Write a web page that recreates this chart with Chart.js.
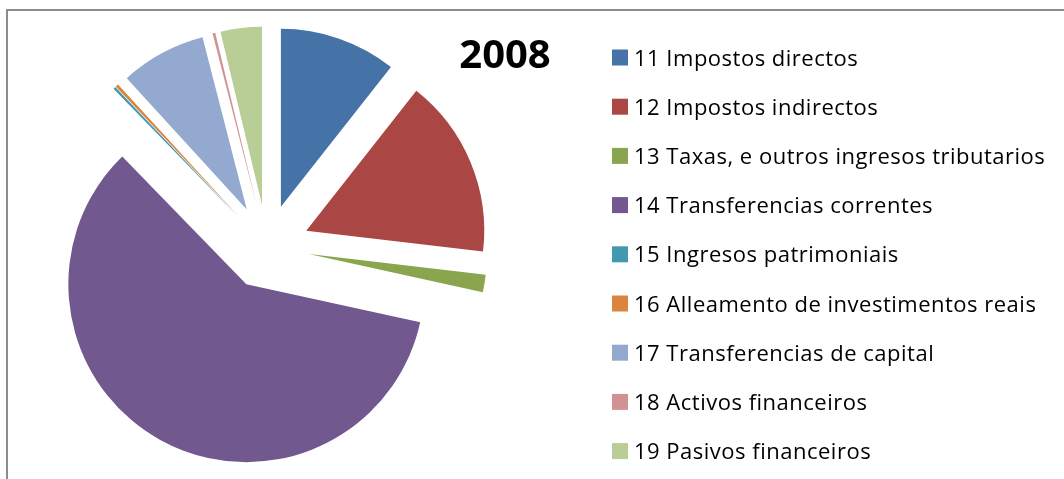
<!DOCTYPE html>
<html>
<head>
<meta charset="utf-8">
<script src="https://cdn.jsdelivr.net/npm/chart.js@4"></script>
<style>
  body { margin: 0; background: #fff; }
  #wrap { position: relative; width: 1064px; height: 479px; overflow: hidden; }
  #frame { position: absolute; left: 6px; top: 9px; width: 1100px; height: 500px;
           border-top: 2px solid #8c8c8c; border-left: 2px solid #8c8c8c; }
  canvas { position: absolute; left: 0; top: 0; }
</style>
</head>
<body>
<div id="wrap">
  <div id="frame"></div>
  <canvas id="chart" width="1064" height="479"></canvas>
</div>
<script>
var title = '2008';
var labels = [
  '11 Impostos directos',
  '12 Impostos indirectos',
  '13 Taxas, e outros ingresos tributarios',
  '14 Transferencias correntes',
  '15 Ingresos patrimoniais',
  '16 Alleamento de investimentos reais',
  '17 Transferencias de capital',
  '18 Activos financeiros',
  '19 Pasivos financeiros'
];
// share of total (%)
var shares = [10.61, 16.25, 1.58, 59.28, 0.22, 0.28, 7.78, 0.25, 3.75];
var colors = ['#4572A7', '#AA4643', '#89A54E', '#71588F', '#4198AF',
              '#DB843D', '#93A9CF', '#D19392', '#B9CD96'];

var RADIUS = 178;
var EXPLODE = 42.5;

// chart.js "offset" also shrinks/grows the slices, so push every slice out along its middle instead
var explode = {
  id: 'explode',
  beforeDatasetsDraw: function(chart) {
    var a = chart.chartArea;
    var cx = (a.left + a.right) / 2, cy = (a.top + a.bottom) / 2;
    chart.getDatasetMeta(0).data.forEach(function(arc) {
      var mid = (arc.startAngle + arc.endAngle) / 2;
      arc.x = cx + Math.cos(mid) * EXPLODE;
      arc.y = cy + Math.sin(mid) * EXPLODE;
    });
  }
};

var sideLegend = {
  id: 'sideLegend',
  afterDraw: function(chart) {
    var ctx = chart.ctx;
    ctx.save();
    ctx.fillStyle = '#000';
    ctx.font = 'bold 40px "Open Sans"';
    ctx.textAlign = 'center';
    ctx.textBaseline = 'alphabetic';
    ctx.fillText(title, 505, 68);

    ctx.font = '22px "Open Sans"';
    ctx.letterSpacing = '0.5px';
    ctx.textAlign = 'left';
    for (var i = 0; i < labels.length; i++) {
      var y = 49.5 + i * 49.2;
      ctx.fillStyle = colors[i];
      ctx.fillRect(612, y, 16, 16);
      ctx.fillStyle = '#000';
      ctx.fillText(labels[i], 634, y + 16);
    }
    ctx.restore();
  }
};

var ctx = document.getElementById('chart').getContext('2d');
var myChart = new Chart(ctx, {
  type: 'pie',
  data: {
    labels: labels,
    datasets: [{
      data: shares,
      backgroundColor: colors,
      borderWidth: 0,
      radius: RADIUS
    }]
  },
  options: {
    responsive: false,
    animation: false,
    layout: { padding: { left: 67, top: 47, right: 597, bottom: 32 } },
    plugins: {
      legend: { display: false },
      tooltip: { enabled: false }
    }
  },
  plugins: [explode, sideLegend]
});
</script>
</body>
</html>
